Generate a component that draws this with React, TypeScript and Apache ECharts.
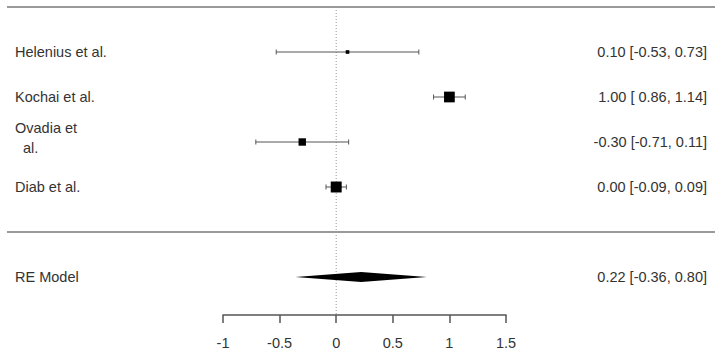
import React, { useEffect, useRef } from "react";
import * as echarts from "echarts";

// ---- data ----
const studies = ["Helenius et al.", "Kochai et al.", "Ovadia et\n  al.", "Diab et al."];
const studyRows = [4, 3, 2, 1];
const estimates = [0.1, 1.0, -0.3, 0.0];
const lowerCI = [-0.53, 0.86, -0.71, -0.09];
const upperCI = [0.73, 1.14, 0.11, 0.09];
const weightsPct = [20.9, 27.3, 24.3, 27.5];

const summaryLabel = "RE Model";
const summaryRow = -1;
const summaryEstimate = 0.22;
const summaryLower = -0.36;
const summaryUpper = 0.8;

const separatorRows = [5, 0];
const xMin = -1;
const xMax = 1.5;
const xInterval = 0.5;
const refValue = 0;

// ---- layout ----
const W = 721;
const H = 353;
const TOP_PX = 7;
const AXIS_PX = 315;
const ROW_PX = 45;
const yMax = 5;
const yMin = yMax - (AXIS_PX - TOP_PX) / ROW_PX;
const FONT = "Liberation Sans, Arial, Helvetica, sans-serif";
const FS = 14.5;
const TEXT_COLOR = "#333";
const WHISKER = "#555";

const fmt = (v: number) => v.toFixed(2);
const ciText = (e: number, l: number, u: number) =>
  `${fmt(e)} [${l < 0 ? "" : " "}${fmt(l)}, ${fmt(u)}]`;

const wMin = Math.min(...weightsPct);
const wMax = Math.max(...weightsPct);
const psize = (w: number) => (0.5 + (w - wMin) / (wMax - wMin)) * 7.3;

function txt(x: number, y: number, text: string, align: string) {
  return {
    type: "text",
    x,
    y,
    style: {
      text,
      fill: TEXT_COLOR,
      fontSize: FS,
      fontFamily: FONT,
      align,
      textAlign: align,
      verticalAlign: "middle",
      textVerticalAlign: "middle",
      lineHeight: 20,
    },
  };
}

export default function App() {
  const ref = useRef<HTMLDivElement>(null);
  useEffect(() => {
    if (!ref.current) return;
    const chart = echarts.init(ref.current, undefined, { renderer: "svg" });
    const studyData = studies.map((_, i) => [
      estimates[i],
      lowerCI[i],
      upperCI[i],
      studyRows[i],
      weightsPct[i],
    ]);
    chart.setOption({
      animation: false,
      grid: { left: 223, right: W - 506, top: TOP_PX, bottom: H - AXIS_PX },
      xAxis: {
        type: "value",
        min: xMin,
        max: xMax,
        interval: xInterval,
        splitLine: { show: false },
        axisLine: { show: true, onZero: false, lineStyle: { color: WHISKER, width: 1.5 } },
        axisTick: { show: true, length: 8, lineStyle: { color: WHISKER, width: 1.5 } },
        axisLabel: { color: TEXT_COLOR, fontSize: FS, fontFamily: FONT, margin: 20 },
      },
      yAxis: { type: "value", min: yMin, max: yMax, show: false },
      series: [
        {
          type: "line",
          data: [
            [refValue, yMax],
            [refValue, yMin],
          ],
          symbol: "none",
          lineStyle: { color: "#999", width: 1, type: [1, 2] },
          silent: true,
          z: 1,
        },
        {
          type: "custom",
          data: separatorRows.map((r) => [xMin, r]),
          renderItem: (params: any, api: any) => {
            const y = api.coord([xMin, api.value(1)])[1];
            return {
              type: "line",
              shape: { x1: 7, y1: y, x2: 715, y2: y },
              style: { stroke: "#9a9a9a", lineWidth: 2 },
            };
          },
          z: 2,
        },
        {
          type: "custom",
          data: studyData,
          renderItem: (params: any, api: any) => {
            const i = params.dataIndex;
            const est = api.value(0);
            const lo = api.value(1);
            const hi = api.value(2);
            const row = api.value(3);
            const size = psize(api.value(4));
            const c = api.coord([est, row]);
            const l = api.coord([lo, row]);
            const h = api.coord([hi, row]);
            const y = c[1];
            const ls = { stroke: WHISKER, lineWidth: 1 };
            const multi = studies[i].indexOf("\n") >= 0;
            return {
              type: "group",
              children: [
                { type: "line", shape: { x1: l[0], y1: y, x2: h[0], y2: y }, style: ls },
                { type: "line", shape: { x1: l[0], y1: y - 2.5, x2: l[0], y2: y + 2.5 }, style: ls },
                { type: "line", shape: { x1: h[0], y1: y - 2.5, x2: h[0], y2: y + 2.5 }, style: ls },
                {
                  type: "rect",
                  shape: { x: c[0] - size / 2, y: y - size / 2, width: size, height: size },
                  style: { fill: "#000" },
                },
                txt(15, multi ? y - 4 : y, studies[i], "left"),
                txt(707, y, ciText(estimates[i], lowerCI[i], upperCI[i]), "right"),
              ],
            };
          },
          z: 3,
        },
        {
          type: "custom",
          data: [[summaryEstimate, summaryLower, summaryUpper, summaryRow]],
          renderItem: (params: any, api: any) => {
            const c = api.coord([api.value(0), api.value(3)]);
            const l = api.coord([api.value(1), api.value(3)]);
            const h = api.coord([api.value(2), api.value(3)]);
            const y = c[1];
            return {
              type: "group",
              children: [
                {
                  type: "polygon",
                  shape: {
                    points: [
                      [l[0], y],
                      [c[0], y - 5],
                      [h[0], y],
                      [c[0], y + 5],
                    ],
                  },
                  style: { fill: "#000" },
                },
                txt(15, y, summaryLabel, "left"),
                txt(707, y, ciText(summaryEstimate, summaryLower, summaryUpper), "right"),
              ],
            };
          },
          z: 3,
        },
      ],
    });
    return () => chart.dispose();
  }, []);
  return (
    <div
      ref={ref}
      style={{ position: "fixed", left: 0, top: 0, width: W, height: H, background: "#fff" }}
    />
  );
}
